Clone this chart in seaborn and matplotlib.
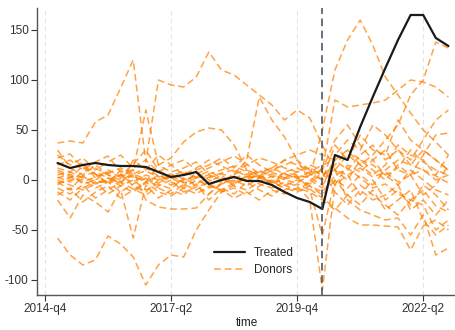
import numpy as np
import pandas as pd
import matplotlib
matplotlib.use("Agg")
import matplotlib.pyplot as plt
from matplotlib.lines import Line2D
import seaborn as sns

# quarters after 2014-q4 (1 = 2015-q1 ... 32 = 2022-q4)
quarters = list(range(1, 33))
tick_pos = [0, 10, 20, 30]
tick_labels = ["2014-q4", "2017-q2", "2019-q4", "2022-q2"]
treat_quarter = 22

treated = [17, 12, 15, 17, 15, 14, 14, 13, 8, 3, 5, 8, -4, 0, 3, -1,
           -1, -5, -12, -18, -22, -29, 25, 20, 53, 83, 112, 140, 165, 165, 142, 134]

donors = {
    "d01": [37, 39, 37, 58, 65, 92, 120, 18, 100, 95, 93, 103, 128, 110, 105, 95,
            85, 75, 60, 70, 62, 35, 10, 5, 12, 3, 8, -2, 5, 10, 4, -3],
    "d02": [-58, -75, -85, -80, -56, -64, -77, -105, -85, -75, -77, -50, -30, -12, -5, 2,
            4, -3, 6, 2, -6, -12, 4, 12, 2, -8, -4, -14, -20, -10, -26, -32],
    "d03": [22, 26, 12, 6, -4, 2, 10, -20, -27, -29, -29, -28, -14, -4, 2, 6,
            3, -4, 1, 4, -9, -18, -28, -38, -45, -45, -46, -47, -70, -46, -40, -50],
    "d04": [5, 8, 2, -1, -3, 5, 3, 0, 2, -5, 0, 4, 2, 6, 3, 0,
            5, 8, 2, 4, 3, 50, 110, 140, 160, 135, 103, 85, 67, 50, 38, 25],
    "d05": [-3, 0, 4, 8, 2, -2, 5, 9, 3, 6, 1, -4, 3, 7, 10, 4,
            2, 6, 0, -3, 5, 10, 80, 73, 75, 77, 80, 90, 100, 98, 93, 83],
    "d06": [10, 4, -2, 3, 7, 12, 6, 1, -3, 4, 9, 2, 5, 0, -4, 3,
            8, 12, 6, 2, 8, 15, 20, 30, 15, 25, 40, 55, 85, 100, 138, 132],
    "d07": [0, -5, -10, -4, 2, -6, -12, -3, 5, -2, -8, 0, -5, -10, -3, 2,
            -4, -8, -2, -6, -20, -110, -5, 15, 8, 20, 5, 12, 30, 18, 10, 5],
    "d08": [-8, -14, -5, -18, -10, -2, -9, -15, -6, 0, -12, -7, -3, -12, -8, -15,
            -6, 0, -10, -4, -10, -55, 0, -15, -25, -10, -30, -20, -10, -40, -55, -45],
    "d09": [3, -2, 8, 12, 5, 0, 6, 12, 4, 1, 7, 3, 9, 2, -2, 4,
            10, 3, 7, 5, 2, -5, 10, -20, -30, -35, -40, -38, -55, -35, -75, -68],
    "d10": [-12, -20, -8, -2, -14, -6, 0, -10, -4, -9, 2, -6, -14, -3, 5, 20,
            83, 60, 43, 20, 0, -8, 25, 40, 30, 55, 45, 30, 20, 40, 60, 70],
    "d11": [8, 2, 14, 6, -3, 10, 4, -2, 15, 22, 38, 48, 52, 50, 35, 10,
            5, -2, 8, 12, 6, 0, 35, 20, 45, 30, 25, 60, 40, 30, 20, 10],
    "d12": [15, 20, 10, 18, 24, 8, 10, 70, 15, 8, 12, 18, 6, 10, 14, 8,
            2, 10, 15, 20, 10, 5, 15, 30, 20, 10, 0, 15, 5, -15, -5, 15],
    "d13": [-20, -38, -15, -22, -32, -10, -58, -5, -18, -10, -15, -4, -20, -8, -14, -2,
            -10, -16, -5, -10, -2, 12, -5, 5, -15, 0, -20, -10, -25, -5, -15, -30],
    "d14": [25, 15, 22, 10, 18, 25, 12, 20, 8, 15, 5, 12, 20, 14, 8, 15,
            22, 18, 12, 8, 15, 10, 40, 55, 35, 20, 30, 10, 5, 25, 45, 47],
    "d15": [2, 6, -4, 0, 8, 3, -2, 5, 0, 3, -6, 8, 0, -2, 6, 10,
            4, -3, 2, 8, 12, 5, 10, 0, 20, 15, 5, -5, 10, 0, -10, -15],
    "d16": [-5, 3, 0, -8, -2, -12, -4, 2, -8, -14, -4, -10, -2, 5, -6, -10,
            -2, 4, -6, 0, -4, 8, -12, -25, -10, -20, -15, -5, -30, -20, -35, -20],
    "d17": [12, 8, 18, 2, 10, 4, 16, 30, 10, 2, -2, 6, 12, 18, 24, 16,
            6, 12, 20, 25, 30, 25, 20, 10, 25, 35, 20, 30, 15, 10, 0, 5],
    "d18": [-2, -10, 4, -4, 0, 6, -6, -12, 0, 5, -3, 2, -8, -4, 0, -6,
            2, -2, -8, -12, -6, -15, 0, -8, 5, -5, 10, 20, 15, 30, 20, 10],
    "d19": [30, 12, 5, 15, 6, -5, 20, 10, 25, 15, 20, 10, 15, 22, 12, 25,
            15, 8, 20, 15, 10, 0, 10, 25, 15, 5, 15, 35, 25, 20, 5, 25],
    "d20": [-15, -8, -22, -12, -6, -18, -10, -2, -12, -16, -8, -14, -6, -10, -18, -12,
            -20, -10, -14, -8, -12, -20, -30, -15, -5, -15, -25, -35, -20, -25, -50, -40],
}

donor_df = pd.concat(
    [pd.DataFrame({"time": quarters, "value": v, "unit": k}) for k, v in donors.items()],
    ignore_index=True,
)
treated_df = pd.DataFrame({"time": quarters, "value": treated})

sns.set_theme(style="white")
plt.rcParams["font.family"] = ["Liberation Sans", "DejaVu Sans"]
plt.rcParams["axes.unicode_minus"] = False

fig = plt.figure(figsize=(4.56, 3.30), dpi=100)
ax = fig.add_axes([37 / 456, 35 / 330, 419 / 456, 287 / 330])

orange = "#ff8000"
sns.lineplot(data=donor_df, x="time", y="value", units="unit", estimator=None,
             color=orange, alpha=0.72, linewidth=1.1, linestyle=(0, (4.5, 2.5)), ax=ax)
sns.lineplot(data=treated_df, x="time", y="value", color="#1a1a1a",
             linewidth=1.6, ax=ax, zorder=5)

ax.axvline(treat_quarter, color="#3c4a5a", linewidth=1.1, linestyle=(0, (5, 3)), zorder=6)

for p in tick_pos:
    ax.axvline(p, color="#e2e2e2", linewidth=0.8, linestyle=(0, (4, 3)), zorder=0)

ax.set_xlim(-0.63, 32.6)
ax.set_ylim(-115, 172)
ax.set_xticks(tick_pos)
ax.set_xticklabels(tick_labels)
ax.set_yticks([-100, -50, 0, 50, 100, 150])
ax.set_xlabel("time", fontsize=8.5, color="#222222", labelpad=1)
ax.set_ylabel("")
ax.tick_params(axis="both", labelsize=8.5, colors="#333333", length=4, width=0.8,
               direction="out", bottom=True, left=True, pad=2)
for s in ["top", "right"]:
    ax.spines[s].set_visible(False)
for s in ["left", "bottom"]:
    ax.spines[s].set_color("#555555")
    ax.spines[s].set_linewidth(1.0)

handles = [
    Line2D([], [], color="#1a1a1a", linewidth=1.6),
    Line2D([], [], color=orange, alpha=0.72, linewidth=1.1, linestyle=(0, (4.5, 2.5))),
]
ax.legend(handles, ["Treated", "Donors"], loc="center", bbox_to_anchor=(0.518, 0.117),
          frameon=False, fontsize=8.5, handlelength=2.6, labelspacing=0.45)

fig.savefig("out.png", dpi=100)
